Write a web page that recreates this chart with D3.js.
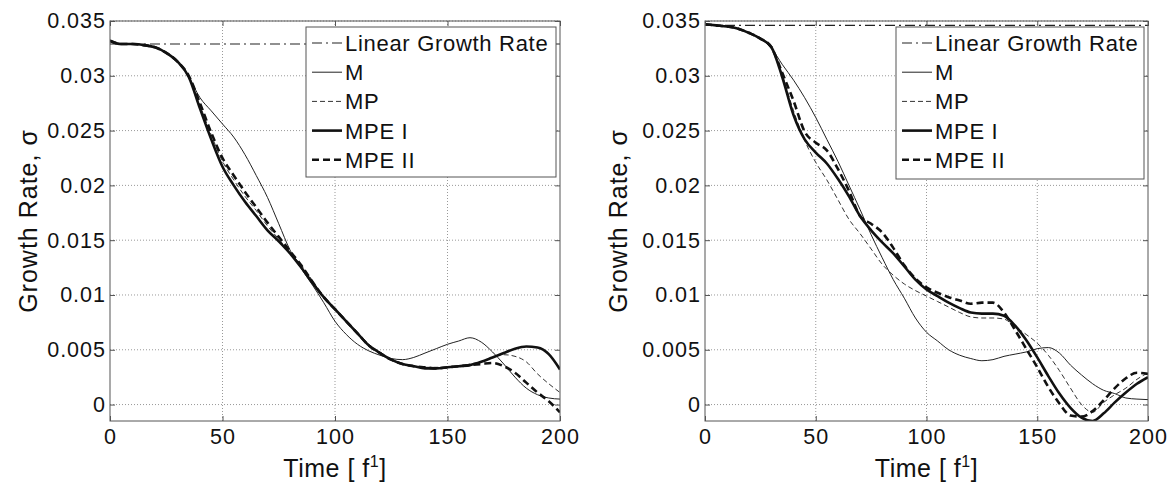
<!DOCTYPE html>
<html>
<head>
<meta charset="utf-8">
<script src="https://cdn.jsdelivr.net/npm/d3@7"></script>
<style>
  body { margin: 0; background: #fff; }
  text { font-family: "Liberation Sans", Arial, Helvetica, sans-serif; fill: #111; }
</style>
</head>
<body>
<svg id="chart" width="1168" height="482"></svg>
<script>
// DATA
var times = [0, 5, 10, 15, 20, 25, 30, 35, 40, 45, 50, 55, 60, 65, 70, 75, 80, 85, 90, 95, 100,
  105, 110, 115, 120, 125, 130, 135, 140, 145, 150, 155, 160, 165, 170, 175, 180, 185, 190, 195, 200];
var linearTimes = [0, 200];
var seriesNames = ['Linear Growth Rate', 'M', 'MP', 'MPE I', 'MPE II'];
var xTicks = [0, 50, 100, 150, 200];
var yTicks = [0, 0.005, 0.01, 0.015, 0.02, 0.025, 0.03, 0.035];
var yTickLabels = ['0', '0.005', '0.01', '0.015', '0.02', '0.025', '0.03', '0.035'];

// left panel
var leftLinear = [0.0329, 0.0329];
var leftM = [0.0332, 0.0329, 0.0329, 0.0328, 0.0326, 0.0321, 0.0313, 0.0299,
  0.0280, 0.0268, 0.0256, 0.0244, 0.0228, 0.0209, 0.0189, 0.0165, 0.0141, 0.0124, 0.0109, 0.0093, 0.0076,
  0.0064, 0.0055, 0.0049, 0.0045, 0.0042, 0.0041, 0.0043, 0.0047, 0.0051, 0.0055, 0.0058, 0.0061,
  0.0057, 0.0048, 0.0037, 0.0025, 0.0015, 0.0009, 0.0006, 0.0005];
var leftMP = [0.0332, 0.0329, 0.0329, 0.0328, 0.0326, 0.0321, 0.0313, 0.0299,
  0.0273, 0.0246, 0.0222, 0.0205, 0.0190, 0.0177, 0.0163, 0.0151, 0.0139, 0.0127, 0.0113, 0.0098, 0.0086,
  0.0076, 0.0065, 0.0055, 0.0048, 0.0041, 0.0037, 0.0035, 0.0034, 0.0034, 0.0034, 0.0035, 0.0037,
  0.0039, 0.0043, 0.00455, 0.0044, 0.0039, 0.0028, 0.0019, 0.0011];
var leftMPE1 = [0.0332, 0.0329, 0.0329, 0.0328, 0.0326, 0.0321, 0.0313, 0.0299,
  0.0270, 0.0242, 0.0217, 0.0200, 0.0185, 0.0172, 0.0159, 0.0149, 0.0138, 0.0125, 0.0111, 0.0098, 0.0087,
  0.0076, 0.0065, 0.0054, 0.0047, 0.0041, 0.0037, 0.0035, 0.0033, 0.0033, 0.0034, 0.0035, 0.0036,
  0.0039, 0.0043, 0.0047, 0.0051, 0.0053, 0.0052, 0.0046, 0.0032];
var leftMPE2 = [0.0332, 0.0329, 0.0329, 0.0328, 0.0326, 0.0321, 0.0313, 0.0300,
  0.0275, 0.0248, 0.0225, 0.0209, 0.0194, 0.0180, 0.0166, 0.0153, 0.0140, 0.0127, 0.0112, 0.0098, 0.0087,
  0.0076, 0.0065, 0.0054, 0.0047, 0.0041, 0.0037, 0.0035, 0.0034, 0.0033, 0.0034, 0.0035, 0.0036,
  0.0037, 0.0038, 0.0035, 0.0029, 0.0020, 0.0011, 0.0003, -0.0007];

// right panel
var rightLinear = [0.0346, 0.0346];
var rightM = [0.0347, 0.0346, 0.0345, 0.0343, 0.0339, 0.0334, 0.0325, 0.0310,
  0.0296, 0.0280, 0.0262, 0.0242, 0.0222, 0.0200, 0.0178, 0.0155, 0.0134, 0.0114, 0.0097, 0.0079, 0.0066,
  0.0058, 0.0050, 0.0045, 0.0042, 0.0040, 0.0041, 0.0044, 0.0046, 0.0048, 0.0051, 0.0052, 0.0047,
  0.0036, 0.0027, 0.0019, 0.0013, 0.0010, 0.0006, 0.0005, 0.00045];
var rightMP = [0.0347, 0.0346, 0.0345, 0.0343, 0.0339, 0.0334, 0.0326, 0.0300,
  0.0268, 0.0241, 0.0221, 0.0205, 0.0187, 0.0169, 0.0156, 0.0142, 0.0128, 0.0118, 0.0110, 0.0104, 0.0099,
  0.0094, 0.0089, 0.0084, 0.0080, 0.0079, 0.0079, 0.0078, 0.0071, 0.0064, 0.0056, 0.0045, 0.0031,
  0.0015, 0.0000, -0.0007, 0.0002, 0.0009, 0.0015, 0.0023, 0.0029];
var rightMPE1 = [0.0347, 0.0346, 0.0345, 0.0343, 0.0339, 0.0334, 0.0326, 0.0298,
  0.0264, 0.0242, 0.0230, 0.0220, 0.0206, 0.0190, 0.0172, 0.0159, 0.0148, 0.0138, 0.0126, 0.0114, 0.0105,
  0.0099, 0.0093, 0.0088, 0.0084, 0.0083, 0.0083, 0.0081, 0.0072, 0.0059, 0.0043, 0.0026, 0.0010,
  -0.0003, -0.0012, -0.0015, -0.0008, 0.0002, 0.0011, 0.0019, 0.0025];
var rightMPE2 = [0.0347, 0.0346, 0.0345, 0.0343, 0.0339, 0.0334, 0.0326, 0.0302,
  0.0277, 0.0249, 0.0239, 0.0232, 0.0215, 0.0195, 0.0172, 0.0165, 0.0157, 0.0143, 0.0127, 0.0115, 0.0107,
  0.0102, 0.0098, 0.0095, 0.0092, 0.0093, 0.0093, 0.0084, 0.0068, 0.0051, 0.0034, 0.0016, 0.0001,
  -0.0010, -0.0011, -0.0006, 0.0004, 0.0015, 0.0024, 0.0029, 0.0028];

// line styles per series (same order as seriesNames)
var styles = [
  { width: 1.1, dash: '10,4,2,4', color: '#222' },
  { width: 1, dash: null, color: '#222' },
  { width: 1, dash: '5,3', color: '#333' },
  { width: 2.6, dash: null, color: '#111' },
  { width: 2.6, dash: '7,4', color: '#111' }
];

var panels = [
  { id: 'left', left: 110, right: 560, top: 21, bottom: 421, labelX: 28,
    legend: { x: 306, y: 27, w: 250, h: 150 },
    series: [leftLinear, leftM, leftMP, leftMPE1, leftMPE2] },
  { id: 'right', left: 705, right: 1148, top: 21, bottom: 421, labelX: 618,
    legend: { x: 896, y: 27, w: 248, h: 152 },
    series: [rightLinear, rightM, rightMP, rightMPE1, rightMPE2] }
];

var svg = d3.select('#chart');

panels.forEach(function(p) {
  var xScale = d3.scaleLinear().domain([0, 200]).range([p.left, p.right]);
  var yScale = d3.scaleLinear().domain([-0.0015, 0.035]).range([p.bottom, p.top]);
  var g = svg.append('g').attr('id', p.id);

  g.append('clipPath').attr('id', 'clip-' + p.id)
    .append('rect')
    .attr('x', p.left).attr('y', p.top)
    .attr('width', p.right - p.left).attr('height', p.bottom - p.top);

  // grid
  g.selectAll('line.vgrid')
    .data(xTicks.filter(function(d) { return d > 0 && d < 200; }))
    .enter().append('line')
    .attr('class', 'vgrid')
    .attr('x1', function(d) { return xScale(d); })
    .attr('x2', function(d) { return xScale(d); })
    .attr('y1', p.top).attr('y2', p.bottom)
    .attr('stroke', '#999').attr('stroke-width', 1).attr('stroke-dasharray', '1,2');
  g.selectAll('line.hgrid')
    .data(yTicks)
    .enter().append('line')
    .attr('class', 'hgrid')
    .attr('x1', p.left).attr('x2', p.right)
    .attr('y1', function(d) { return yScale(d); })
    .attr('y2', function(d) { return yScale(d); })
    .attr('stroke', '#999').attr('stroke-width', 1).attr('stroke-dasharray', '1,2');

  // curves
  var lines = g.append('g').attr('clip-path', 'url(#clip-' + p.id + ')');
  p.series.forEach(function(vals, i) {
    var ts = vals.length === 2 ? linearTimes : times;
    var pts = vals.map(function(v, k) { return [ts[k], v]; });
    var line = d3.line()
      .x(function(d) { return xScale(d[0]); })
      .y(function(d) { return yScale(d[1]); })
      .curve(d3.curveMonotoneX);
    lines.append('path')
      .datum(pts)
      .attr('d', line)
      .attr('fill', 'none')
      .attr('stroke', styles[i].color)
      .attr('stroke-width', styles[i].width)
      .attr('stroke-dasharray', styles[i].dash)
      .attr('stroke-linejoin', 'round');
  });

  // axes, ticks pointing inward on all sides
  var fmt = function(d) { return yTickLabels[yTicks.indexOf(d)]; };
  var axB = g.append('g').attr('transform', 'translate(0,' + p.bottom + ')')
    .call(d3.axisBottom(xScale).tickValues(xTicks).tickSize(-5).tickPadding(8));
  var axT = g.append('g').attr('transform', 'translate(0,' + p.top + ')')
    .call(d3.axisTop(xScale).tickValues(xTicks).tickSize(-5).tickFormat(''));
  var axL = g.append('g').attr('transform', 'translate(' + p.left + ',0)')
    .call(d3.axisLeft(yScale).tickValues(yTicks).tickSize(-5).tickPadding(4).tickFormat(fmt));
  var axR = g.append('g').attr('transform', 'translate(' + p.right + ',0)')
    .call(d3.axisRight(yScale).tickValues(yTicks).tickSize(-5).tickFormat(''));
  [axB, axT, axL, axR].forEach(function(a) {
    a.select('.domain').remove();
    a.selectAll('line').attr('stroke', '#555');
    a.selectAll('text')
      .style('font-size', '21.5px')
      .style('letter-spacing', '1px')
      .attr('fill', '#111');
  });

  // box
  g.append('rect')
    .attr('x', p.left).attr('y', p.top)
    .attr('width', p.right - p.left).attr('height', p.bottom - p.top)
    .attr('fill', 'none').attr('stroke', '#555').attr('stroke-width', 1);

  // axis labels
  g.append('text')
    .attr('transform', 'translate(' + p.labelX + ',' + ((p.top + p.bottom) / 2) + ')rotate(-90)')
    .attr('text-anchor', 'middle')
    .attr('dy', '0.35em')
    .style('font-size', '25px')
    .style('letter-spacing', '1px')
    .text('Growth Rate, σ');

  var xl = g.append('text')
    .attr('x', (p.left + p.right) / 2)
    .attr('y', 477)
    .attr('text-anchor', 'middle')
    .style('font-size', '25px')
    .style('letter-spacing', '0.5px');
  xl.append('tspan').text('Time [ f');
  xl.append('tspan').attr('dy', -10).style('font-size', '16px').text('1');
  xl.append('tspan').attr('dy', 10).text(']');

  // legend
  var L = p.legend;
  var lg = g.append('g');
  lg.append('rect')
    .attr('x', L.x).attr('y', L.y).attr('width', L.w).attr('height', L.h)
    .attr('fill', '#fff').attr('stroke', '#555').attr('stroke-width', 1);
  seriesNames.forEach(function(name, i) {
    var cy = L.y + 16 + i * 29.2;
    lg.append('line')
      .attr('x1', L.x + 6).attr('x2', L.x + 36)
      .attr('y1', cy).attr('y2', cy)
      .attr('stroke', styles[i].color)
      .attr('stroke-width', styles[i].width)
      .attr('stroke-dasharray', styles[i].dash);
    lg.append('text')
      .attr('x', L.x + 39).attr('y', cy)
      .attr('dy', '0.36em')
      .style('font-size', '22px')
      .style('letter-spacing', '0.7px')
      .text(name);
  });
});
</script>
</body>
</html>
